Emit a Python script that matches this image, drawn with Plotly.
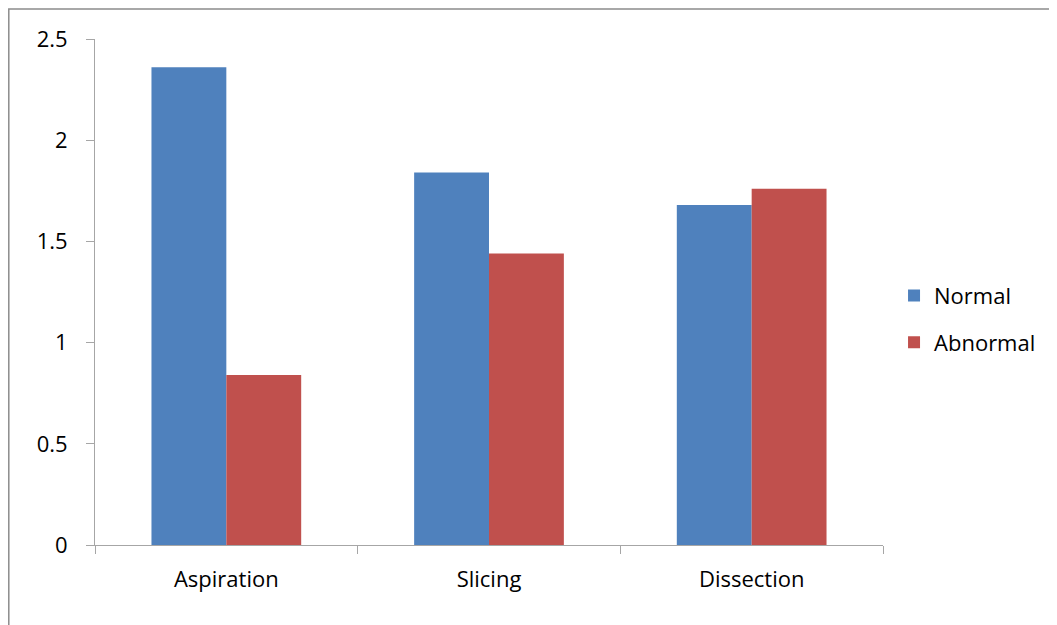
import plotly.graph_objects as go

categories = ["Aspiration", "Slicing", "Dissection"]
normal = [2.36, 1.84, 1.68]
abnormal = [0.84, 1.44, 1.76]
y_ticks = [0, 0.5, 1, 1.5, 2, 2.5]
y_tick_labels = ["0", "0.5", "1", "1.5", "2", "2.5"]

font_family = "Open Sans, Noto Sans, DejaVu Sans, sans-serif"
axis_color = "#a6a6a6"

L, R, T, B = 87, 182, 31, 88
PW = 1057 - L - R
PH = 625 - T - B

fig = go.Figure()
fig.add_trace(go.Bar(name="Normal", x=categories, y=normal, marker_color="#4F81BD",
                     marker_line_width=0, legendgroup="a"))
fig.add_trace(go.Bar(name="Abnormal", x=categories, y=abnormal, marker_color="#C0504D",
                     marker_line_width=0, legendgroup="b"))

fig.update_layout(
    width=1057, height=625,
    margin=dict(l=L, r=R, t=T, b=B),
    paper_bgcolor="white", plot_bgcolor="white",
    barmode="group", bargap=0.43, bargroupgap=0,
    font=dict(family=font_family, size=22, color="black"),
    legend=dict(x=1.014, y=0.446, xanchor="left", yanchor="middle",
                font=dict(size=22), tracegroupgap=15, itemwidth=30,
                traceorder="grouped"),
    showlegend=True,
)
fig.update_xaxes(
    showline=True, linecolor=axis_color, linewidth=1,
    ticks="outside", ticklen=8, tickcolor=axis_color, tickson="boundaries",
    showgrid=False, zeroline=False, ticklabelstandoff=15,
)
fig.update_yaxes(
    range=[0, 2.5], tickvals=y_ticks, ticktext=y_tick_labels,
    showline=True, linecolor=axis_color, linewidth=1,
    ticks="outside", ticklen=8, tickcolor=axis_color,
    showgrid=False, zeroline=False, ticklabelstandoff=14,
)
# outer chart border (top and left edges visible)
fig.add_shape(type="rect", xref="paper", yref="paper",
              x0=(0.8 - L) / PW, x1=1.3, y0=-0.3, y1=(PH + T - 1) / PH,
              line=dict(color="#8c8c8c", width=1.5), fillcolor="rgba(0,0,0,0)",
              layer="below")

fig.write_html("out.html")
